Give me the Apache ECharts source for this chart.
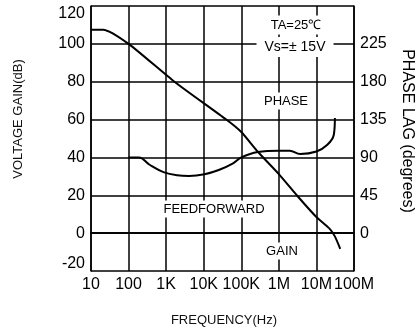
<!DOCTYPE html>
<html>
<head>
<meta charset="utf-8">
<script src="https://cdn.jsdelivr.net/npm/echarts@6/dist/echarts.min.js"></script>
<style>
  html, body { margin: 0; padding: 0; background: #fff; }
  #chart { width: 419px; height: 333px; }
</style>
</head>
<body>
<div id="chart"></div>
<script>
// frequency (Hz) / voltage gain (dB)
var gainFreq = [10, 21, 100, 1660, 39800, 100000, 275000, 1e6, 3.16e6, 1e7, 2.2e7, 3.1e7, 4.3e7];
var gainDb   = [107.5, 107.5, 100, 80, 60, 53.4, 43, 31.2, 19.5, 8.5, 2.5, -1.7, -8.3];

// frequency (Hz) / phase lag (degrees), feedforward
var phaseFreq = [100, 190, 355, 850, 1950, 4070, 10500, 25100, 60300, 100000, 275000, 1e6, 1.95e6, 3.7e6, 1e7, 1.95e7, 2.9e7, 3.1e7];
var phaseDeg  = [90, 90, 81.6, 72.6, 68.8, 68, 70, 75, 83, 90, 96.4, 98, 98, 94, 97, 105, 117, 137];

// x axis runs in decades: 1 = 10Hz ... 8 = 100MHz
var freqLabels = {1: '10', 2: '100', 3: '1K', 4: '10K', 5: '100K', 6: '1M', 7: '10M', 8: '100M'};
var phaseTicks = [0, 45, 90, 135, 180, 225];

function pairs(fs, ys) {
    return fs.map(function (f, i) { return [Math.log(f) / Math.LN10, ys[i]]; });
}

var FONT = '"Liberation Sans", Arial, sans-serif';
var myChart = echarts.init(document.getElementById('chart'));

var option = {
    backgroundColor: '#fff',
    animation: false,
    grid: {left: 91, right: 65, top: 6, bottom: 62, containLabel: false},
    xAxis: [{
        type: 'value',
        min: 1, max: 8, interval: 1,
        axisLine: {lineStyle: {color: '#000', width: 1.5}},
        axisTick: {show: true, inside: true, length: 0},
        splitLine: {show: true, lineStyle: {color: '#000', width: 1.5}},
        axisLabel: {
            color: '#000', fontSize: 16, fontFamily: FONT, margin: 6,
            formatter: function (v) {
                return freqLabels[Math.round(v)] || '';
            }
        }
    }, {
        // top frame line only
        type: 'value', position: 'top',
        min: 1, max: 8, interval: 1,
        axisLine: {show: true, lineStyle: {color: '#000', width: 1.5}},
        axisTick: {show: false},
        axisLabel: {show: false},
        splitLine: {show: false}
    }],
    yAxis: [{
        type: 'value',
        min: -20, max: 120, interval: 20,
        axisLine: {show: true, lineStyle: {color: '#000', width: 1.5}},
        axisTick: {show: false},
        splitLine: {show: true, lineStyle: {color: '#000', width: 1.5}},
        axisLabel: {
            color: '#000', fontSize: 16, fontFamily: FONT, margin: 6,
            formatter: function (v) {
                if (v === 120) return '{top|' + v + '}';
                if (v === -20) return '{bot|' + v + '}';
                return v;
            },
            rich: {
                top: {fontSize: 16, fontFamily: FONT, color: '#000', padding: [16, 0, 0, 0]},
                bot: {fontSize: 16, fontFamily: FONT, color: '#000', padding: [0, 0, 14, 0]}
            }
        }
    }, {
        type: 'value',
        min: -45, max: 270, interval: 45,
        axisLine: {show: true, lineStyle: {color: '#000', width: 1.5}},
        axisTick: {show: false},
        splitLine: {show: false},
        axisLabel: {
            color: '#000', fontSize: 16, fontFamily: FONT, margin: 6,
            formatter: function (v) {
                return phaseTicks.indexOf(v) >= 0 ? v : '';
            }
        }
    }],
    series: [{
        name: 'GAIN',
        type: 'line',
        xAxisIndex: 0,
        yAxisIndex: 0,
        data: pairs(gainFreq, gainDb),
        showSymbol: false,
        smooth: 0.2,
        lineStyle: {color: '#000', width: 2}
    }, {
        name: 'FEEDFORWARD',
        type: 'line',
        xAxisIndex: 0,
        yAxisIndex: 1,
        data: pairs(phaseFreq, phaseDeg),
        showSymbol: false,
        smooth: 0.4,
        lineStyle: {color: '#000', width: 2}
    }],
    graphic: [
        {type: 'text', x: 18, y: 119, rotation: Math.PI / 2,
         style: {text: 'VOLTAGE GAIN(dB)', font: '13px ' + FONT, fill: '#111', align: 'center', verticalAlign: 'middle'}},
        {type: 'text', x: 407, y: 131, rotation: -Math.PI / 2,
         style: {text: 'PHASE LAG (degrees)', font: '16px ' + FONT, fill: '#000', align: 'center', verticalAlign: 'middle'}},
        {type: 'text', x: 224, y: 320,
         style: {text: 'FREQUENCY(Hz)', font: '13px ' + FONT, fill: '#111', align: 'center', verticalAlign: 'middle'}},
        {type: 'text', x: 296, y: 25, z: 10,
         style: {text: 'TA=25℃', font: '13px ' + FONT, fill: '#000', align: 'center', verticalAlign: 'middle', backgroundColor: '#fff', padding: [3, 6]}},
        {type: 'text', x: 295, y: 47, z: 10,
         style: {text: 'Vs=± 15V', font: '14px ' + FONT, fill: '#000', align: 'center', verticalAlign: 'middle', backgroundColor: '#fff', padding: [3, 8]}},
        {type: 'text', x: 286, y: 101, z: 10,
         style: {text: 'PHASE', font: '13px ' + FONT, fill: '#000', align: 'center', verticalAlign: 'middle', backgroundColor: '#fff', padding: [2, 3]}},
        {type: 'text', x: 214, y: 209, z: 10,
         style: {text: 'FEEDFORWARD', font: '13px ' + FONT, fill: '#000', align: 'center', verticalAlign: 'middle', backgroundColor: '#fff', padding: [2, 3]}},
        {type: 'text', x: 282, y: 251, z: 10,
         style: {text: 'GAIN', font: '13px ' + FONT, fill: '#000', align: 'center', verticalAlign: 'middle', backgroundColor: '#fff', padding: [2, 3]}}
    ]
};

myChart.setOption(option);
</script>
</body>
</html>
